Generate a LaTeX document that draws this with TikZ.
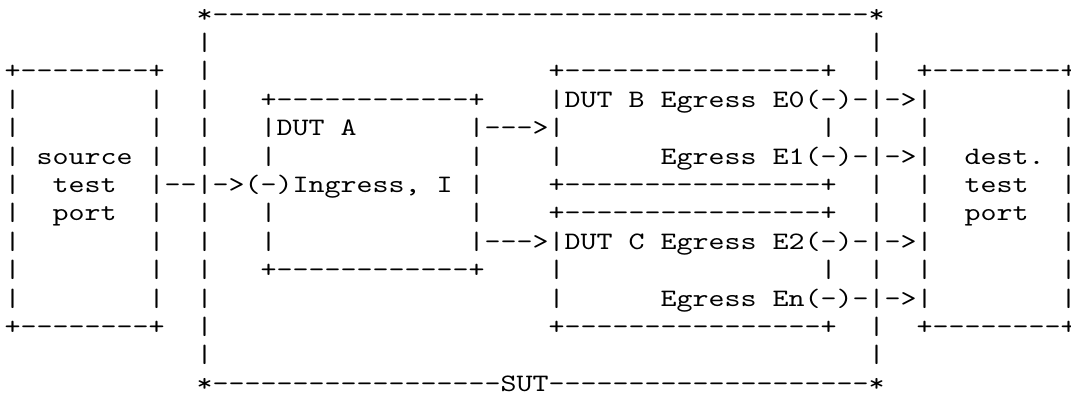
\documentclass[tikz,border=0pt]{standalone}
\usepackage{fontspec}
\setmonofont{lmmono10-regular.otf}[FakeStretch=1.2158]
\ExplSyntaxOn
\cs_new:Npn \Rp #1#2 { \prg_replicate:nn {#1} {#2} }
\ExplSyntaxOff
\def\spx#1{\phantom{\Rp{#1}{x}}}
\def\dhx#1{\Rp{#1}{-}}
\def\lastc#1{\rlap{#1}}
\tikzset{asciirow/.style={anchor=base west, inner sep=0pt, outer sep=0pt,
  font=\ttfamily\frenchspacing\fontsize{18.8pt}{21.3pt}\selectfont, text=black}}
\begin{document}
\begin{tikzpicture}
\useasboundingbox (0,0) rectangle (803.25pt,-309pt);
\node[asciirow] (row0)  at (3.5pt,-16.5pt)  {\spx{12}*\dhx{41}*};
\node[asciirow] (row1)  at (3.5pt,-37.8pt)  {\spx{12}|\spx{41}|};
\node[asciirow] (row2)  at (3.5pt,-59.1pt)  {+\dhx{8}+\spx{2}|\spx{21}+\dhx{16}+\spx{2}|\spx{2}+\dhx{8}\lastc{+}};
\node[asciirow] (row3)  at (3.5pt,-80.4pt)  {|\spx{8}|\spx{2}|\spx{3}+\dhx{12}+\spx{4}|DUT\spx{1}B\spx{1}Egress\spx{1}E0(-)-|->|\spx{8}\lastc{|}};
\node[asciirow] (row4)  at (3.5pt,-101.7pt) {|\spx{8}|\spx{2}|\spx{3}|DUT\spx{1}A\spx{7}|--->|\spx{16}|\spx{2}|\spx{2}|\spx{8}\lastc{|}};
\node[asciirow] (row5)  at (3.5pt,-123.0pt) {|\spx{1}source\spx{1}|\spx{2}|\spx{3}|\spx{12}|\spx{4}|\spx{6}Egress\spx{1}E1(-)-|->|\spx{2}dest.\spx{1}\lastc{|}};
\node[asciirow] (row6)  at (3.5pt,-144.3pt) {|\spx{2}test\spx{2}|--|->(-)Ingress,\spx{1}I\spx{1}|\spx{4}+\dhx{16}+\spx{2}|\spx{2}|\spx{2}test\spx{2}\lastc{|}};
\node[asciirow] (row7)  at (3.5pt,-165.6pt) {|\spx{2}port\spx{2}|\spx{2}|\spx{3}|\spx{12}|\spx{4}+\dhx{16}+\spx{2}|\spx{2}|\spx{2}port\spx{2}\lastc{|}};
\node[asciirow] (row8)  at (3.5pt,-186.9pt) {|\spx{8}|\spx{2}|\spx{3}|\spx{12}|--->|DUT\spx{1}C\spx{1}Egress\spx{1}E2(-)-|->|\spx{8}\lastc{|}};
\node[asciirow] (row9)  at (3.5pt,-208.2pt) {|\spx{8}|\spx{2}|\spx{3}+\dhx{12}+\spx{4}|\spx{16}|\spx{2}|\spx{2}|\spx{8}\lastc{|}};
\node[asciirow] (row10) at (3.5pt,-229.5pt) {|\spx{8}|\spx{2}|\spx{21}|\spx{6}Egress\spx{1}En(-)-|->|\spx{8}\lastc{|}};
\node[asciirow] (row11) at (3.5pt,-250.8pt) {+\dhx{8}+\spx{2}|\spx{21}+\dhx{16}+\spx{2}|\spx{2}+\dhx{8}\lastc{+}};
\node[asciirow] (row12) at (3.5pt,-272.1pt) {\spx{12}|\spx{41}|};
\node[asciirow] (row13) at (3.5pt,-293.4pt) {\spx{12}*\dhx{18}SUT\dhx{20}*};
\end{tikzpicture}
\end{document}
